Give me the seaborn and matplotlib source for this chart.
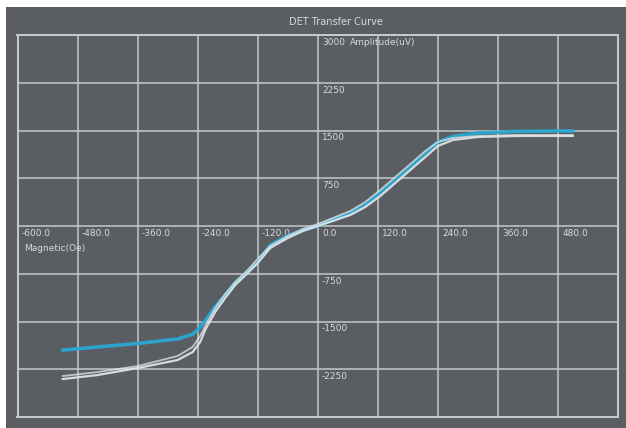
import numpy as np
import pandas as pd
import seaborn as sns
import matplotlib
matplotlib.use("Agg")
import matplotlib.pyplot as plt
from matplotlib.patches import Rectangle

# ---- data ----
field_cyan = [-510, -440, -360, -280, -250, -240, -225, -205, -185, -165, -140, -120, -95, -60, -30,
              0, 30, 65, 95, 125, 155, 185, 215, 240, 270, 320, 400, 480, 510]
amp_cyan = [-1950, -1900, -1845, -1775, -1700, -1630, -1490, -1270, -1085, -895, -720, -565, -300, -157, -63,
            0, 94, 204, 330, 518, 723, 927, 1147, 1320, 1406, 1461, 1485, 1492, 1492]

field_white_a = [-510, -440, -360, -280, -250, -235, -225, -205, -185, -165, -140, -120, -95, -60, -30,
                 0, 30, 65, 95, 125, 155, 185, 215, 240, 270, 320, 400, 480, 510]
amp_white_a = [-2404, -2341, -2231, -2105, -1980, -1822, -1634, -1351, -1131, -927, -738, -581, -346, -189, -79,
               0, 79, 173, 298, 471, 676, 880, 1084, 1257, 1351, 1398, 1414, 1414, 1414]

field_white_b = [-510, -440, -360, -280, -250, -235, -225, -205, -185, -165, -140, -120, -95, -60, -30,
                 0, 30, 65, 95, 125, 155, 185, 215, 240, 270, 320, 400, 480, 510]
amp_white_b = [-2357, -2294, -2200, -2042, -1900, -1728, -1571, -1288, -1068, -880, -691, -518, -314, -157, -47,
               31, 126, 236, 377, 566, 770, 974, 1178, 1320, 1382, 1414, 1430, 1430, 1430]

x_ticks = [-600, -480, -360, -240, -120, 0, 120, 240, 360, 480, 600]
x_tick_labels = ["-600.0", "-480.0", "-360.0", "-240.0", "-120.0", "0.0", "120.0", "240.0", "360.0", "480.0", ""]
y_ticks = [-3000, -2250, -1500, -750, 0, 750, 1500, 2250, 3000]
y_tick_labels = ["", "-2250", "-1500", "-750", "", "750", "1500", "2250", "3000"]

title = "DET Transfer Curve"
x_name = "Magnetic(Oe)"
y_name = "Amplitude(uV)"

# ---- styling ----
BG = "#5a5e62"
GRID = "#c8cacc"
TXT = "#d8d8d8"
CYAN = "#2aa8d2"
WHITE = "#e6e8ea"

sns.set_style("dark")
plt.rcParams['font.family'] = ['DejaVu Sans']

fig = plt.figure(figsize=(6.26, 4.28), dpi=100)
fig.patch.set_facecolor("white")
fig.patches.append(Rectangle((6 / 626, 0), 1, (428 - 7) / 428, transform=fig.transFigure,
                             facecolor=BG, edgecolor="none", zorder=-10))

W, H = 626, 428
left, right, top, bottom = 17.5, 618, 35, 417
ax = fig.add_axes([left / W, (H - bottom) / H, (right - left) / W, (bottom - top) / H])
ax.set_zorder(1)
ax.set_facecolor(BG)
ax.set_xlim(-600, 600)
ax.set_ylim(-3000, 3000)
ax.set_xticks(x_ticks)
ax.set_yticks(y_ticks)
ax.tick_params(length=0, labelbottom=False, labelleft=False)
ax.grid(True, color=GRID, linewidth=1.2, alpha=0.9)
for s in ax.spines.values():
    s.set_color(GRID)
    s.set_linewidth(1.4)

df_a = pd.DataFrame({"field": field_white_a, "amp": amp_white_a})
df_b = pd.DataFrame({"field": field_white_b, "amp": amp_white_b})
df_c = pd.DataFrame({"field": field_cyan, "amp": amp_cyan})

sns.lineplot(data=df_c, x="field", y="amp", ax=ax, color=CYAN, linewidth=2.6, sort=False,
             estimator=None, zorder=3, alpha=0.95)
sns.lineplot(data=df_a, x="field", y="amp", ax=ax, color=WHITE, linewidth=1.6, sort=False,
             estimator=None, zorder=4, alpha=0.9)
sns.lineplot(data=df_b, x="field", y="amp", ax=ax, color=WHITE, linewidth=1.3, sort=False,
             estimator=None, zorder=4, alpha=0.75)
ax.set_xlabel("")
ax.set_ylabel("")

fs = 6.5
for xv, lab in zip(x_ticks, x_tick_labels):
    if lab:
        ax.annotate(lab, (xv, 0), xytext=(3, -2), textcoords="offset points",
                    ha="left", va="top", fontsize=fs, color=TXT, zorder=2)
for yv, lab in zip(y_ticks, y_tick_labels):
    if lab:
        ax.annotate(lab, (0, yv), xytext=(3, -2), textcoords="offset points",
                    ha="left", va="top", fontsize=fs, color=TXT, zorder=2)
ax.annotate(y_name, (0, 3000), xytext=(23, -2), textcoords="offset points",
            ha="left", va="top", fontsize=fs, color=TXT, zorder=2)
ax.annotate(x_name, (-600, 0), xytext=(5, -13), textcoords="offset points",
            ha="left", va="top", fontsize=fs, color=TXT, zorder=2)

fig.text(336 / W, (H - 22) / H, title, ha="center", va="center", fontsize=7, color=TXT)

fig.savefig("out.png", dpi=100, facecolor=fig.get_facecolor())
